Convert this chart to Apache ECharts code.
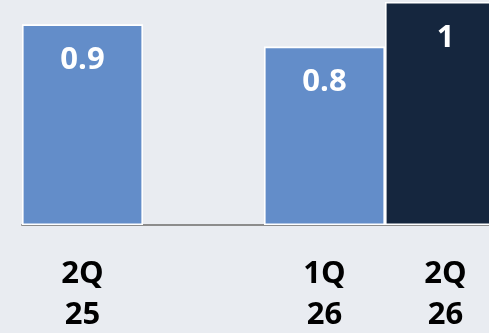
<!DOCTYPE html>
<html>
<head>
<meta charset="utf-8">
<style>
  html, body { margin: 0; padding: 0; background: #E9ECF1; }
  #chart { width: 489px; height: 333px; }
</style>
<script src="https://cdn.jsdelivr.net/npm/echarts@6/dist/echarts.min.js"></script>
</head>
<body>
<div id="chart"></div>
<script>
// Quarterly values; the blank slot separates 2Q25 from the recent quarters
const categories = ['2Q\n25', '', '1Q\n26', '2Q\n26'];
const values = [0.9, null, 0.8, 1];
const barColors = ['#638DC9', '#638DC9', '#638DC9', '#15263E'];

const chart = echarts.init(document.getElementById('chart'), null, { renderer: 'canvas' });

chart.setOption({
  backgroundColor: '#E9ECF1',
  animation: false,
  grid: {
    left: 22, top: 2, width: 484, height: 223,
    containLabel: false,
    outerBoundsMode: 'none'
  },
  xAxis: {
    type: 'category',
    data: categories,
    axisLine: { show: true, lineStyle: { color: '#8C8C8C', width: 2 } },
    axisTick: { show: false },
    axisLabel: {
      color: '#000000',
      fontFamily: 'Open Sans',
      fontWeight: 'bold',
      fontSize: 31,
      lineHeight: 41,
      margin: 29
    }
  },
  yAxis: {
    type: 'value',
    min: 0,
    max: 1,
    show: false,
    splitLine: { show: false }
  },
  series: [{
    type: 'bar',
    barWidth: '100%',
    data: values.map((v, i) => ({ value: v, itemStyle: { color: barColors[i] } })),
    itemStyle: { borderColor: '#FFFFFF', borderWidth: 1.6 },
    label: {
      show: true,
      position: 'insideTop',
      distance: 20,
      color: '#FFFFFF',
      fontFamily: 'Open Sans',
      fontWeight: 'bold',
      fontSize: 31,
      lineHeight: 32
    }
  }]
});
</script>
</body>
</html>
